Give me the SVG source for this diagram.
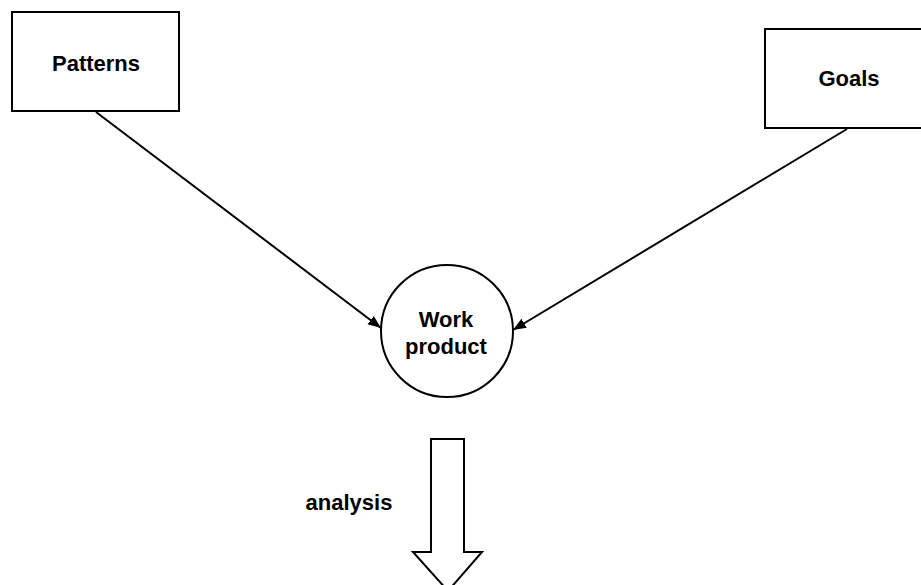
<svg xmlns="http://www.w3.org/2000/svg" width="921" height="585" viewBox="0 0 921 585">
  <style>
    .box { fill: #ffffff; stroke: #000000; stroke-width: 2; }
    .label { font-family: "Liberation Sans", Arial, sans-serif; font-size: 22px; font-weight: bold; fill: #000000; text-anchor: middle; }
    .edge { fill: none; stroke: #000000; stroke-width: 2; }
  </style>
  <defs>
    <marker id="head" viewBox="0 0 10 10" refX="10" refY="5" markerWidth="6.5" markerHeight="6.5" orient="auto" markerUnits="strokeWidth">
      <path d="M0,1 L10,5 L0,9 Z" fill="#000000"/>
    </marker>
  </defs>
  <rect width="921" height="585" fill="#ffffff"/>

  <g id="connectors">
    <line class="edge" x1="96" y1="112" x2="381" y2="328" marker-end="url(#head)"/>
    <line class="edge" x1="847" y1="129" x2="513" y2="330" marker-end="url(#head)"/>
  </g>

  <g id="patterns">
    <rect class="box" x="12" y="12" width="167" height="99"/>
    <text class="label" x="96" y="71">Patterns</text>
  </g>

  <g id="goals">
    <rect class="box" x="765" y="29" width="170" height="99"/>
    <text class="label" x="849" y="86">Goals</text>
  </g>

  <g id="work-product">
    <circle class="box" cx="447" cy="331" r="66"/>
    <text class="label" x="446" y="327">Work</text>
    <text class="label" x="446" y="354">product</text>
  </g>

  <g id="analysis">
    <path class="box" d="M431,439 L464,439 L464,552 L482,552 L448,591 L413,552 L431,552 Z"/>
    <text class="label" x="349" y="510">analysis</text>
  </g>
</svg>
